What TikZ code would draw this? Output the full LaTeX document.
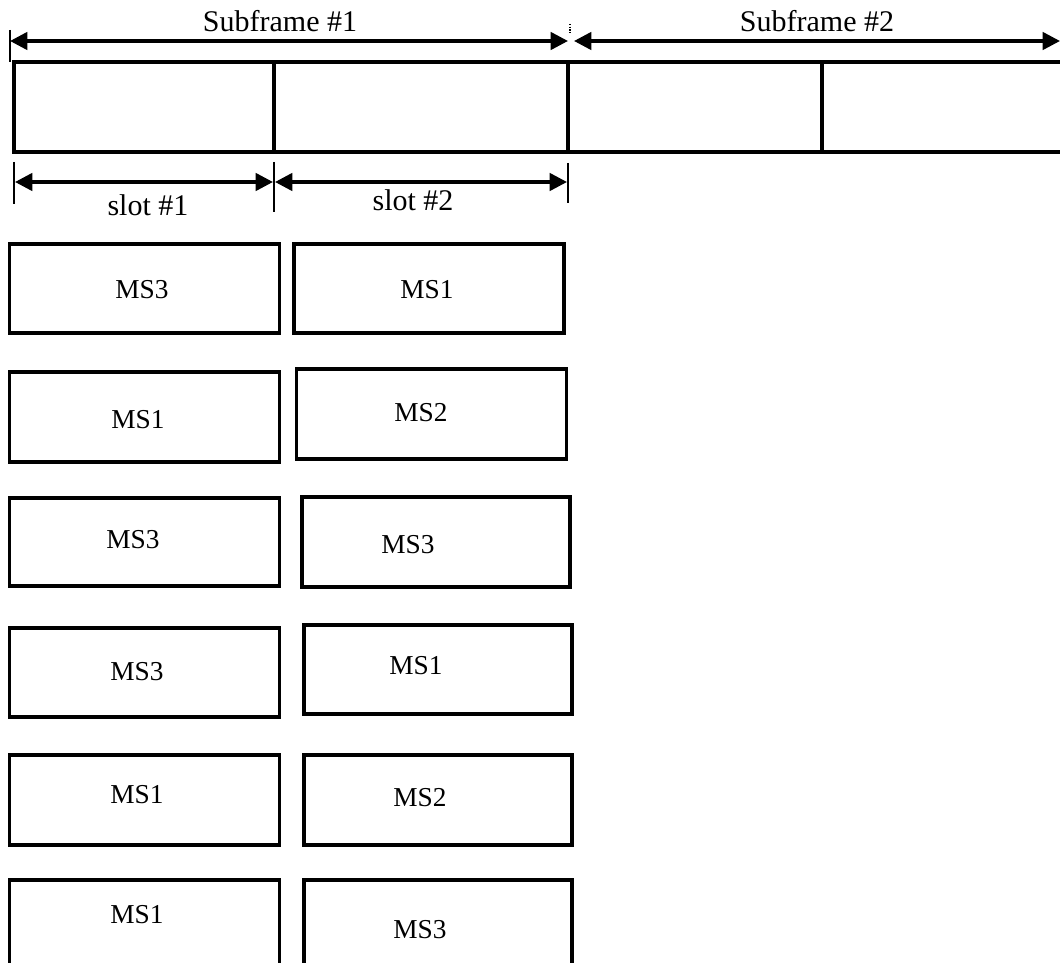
\documentclass[tikz,border=0pt]{standalone}
\usepackage{fontspec}
\setmainfont{Liberation Serif}
\usetikzlibrary{arrows.meta}
\begin{document}
\begin{tikzpicture}[x=0.75pt,y=-0.75pt,
  frameline/.style={line width=2.6pt},
  dim/.style={line width=2.6pt,{Triangle[length=13pt,width=13pt]}-{Triangle[length=13pt,width=13pt]}},
  tick/.style={line width=1.8pt},
  msbox/.style={draw,line width=2.6pt,rectangle,inner sep=0pt},
  lbl/.style={font=\fontsize{22.5}{26}\selectfont,inner sep=0pt},
  mslbl/.style={font=\fontsize{20.5}{24}\selectfont,inner sep=0pt}]
\useasboundingbox (0,0) rectangle (1060,963);
% frame
\coordinate (fTL) at (14,62);
\coordinate (fTR) at (1064,62);
\coordinate (fBL) at (14,152);
\coordinate (fBR) at (1064,152);
\draw[frameline] (fTR) -- (fTL) -- (fBL) -- (fBR);
\coordinate (d1t) at (274,62); \coordinate (d1b) at (274,152);
\coordinate (d2t) at (568,62); \coordinate (d2b) at (568,152);
\coordinate (d3t) at (822,62); \coordinate (d3b) at (822,152);
\draw[frameline] (d1t) -- (d1b) (d2t) -- (d2b) (d3t) -- (d3b);
% subframe arrows
\coordinate (s1l) at (10,41); \coordinate (s1r) at (568,41);
\coordinate (s2l) at (574,41); \coordinate (s2r) at (1060,41);
\coordinate (t0a) at (10,30); \coordinate (t0b) at (10,62);
\draw[tick] (t0a) -- (t0b);
\coordinate (tma) at (570,24); \coordinate (tmb) at (570,34);
\draw[line width=1pt,densely dotted] (tma) -- (tmb);
\draw[dim] (s1l) -- (s1r);
\draw[dim] (s2l) -- (s2r);
\node[lbl] (sf1) at (280,21) {Subframe \#1};
\node[lbl] (sf2) at (817,21) {Subframe \#2};
% slot arrows
\coordinate (k0a) at (14,162); \coordinate (k0b) at (14,204);
\coordinate (k1a) at (274,162); \coordinate (k1b) at (274,212);
\coordinate (k2a) at (568,163); \coordinate (k2b) at (568,203);
\draw[tick] (k0a) -- (k0b) (k1a) -- (k1b) (k2a) -- (k2b);
\coordinate (sl1l) at (15,182); \coordinate (sl1r) at (273,182);
\coordinate (sl2l) at (275,182); \coordinate (sl2r) at (567,182);
\draw[dim] (sl1l) -- (sl1r);
\draw[dim] (sl2l) -- (sl2r);
\node[lbl] (st1) at (148,205) {slot \#1};
\node[lbl] (st2) at (413,200) {slot \#2};
% boxes
\node[msbox,minimum width=202.5pt,minimum height=67pt] (b1l) at (144.5,288.5) {};
\node[msbox,minimum width=202.5pt,minimum height=67pt] (b1r) at (429,288.5) {};
\node[mslbl] (m1l) at (142,290) {MS3};
\node[mslbl] (m1r) at (427,290) {MS1};
\node[msbox,minimum width=202.5pt,minimum height=67.5pt] (b2l) at (144.5,417) {};
\node[msbox,minimum width=202.5pt,minimum height=67.5pt] (b2r) at (431.5,414) {};
\node[mslbl] (m2l) at (138,420) {MS1};
\node[mslbl] (m2r) at (421,413) {MS2};
\node[msbox,minimum width=202.5pt,minimum height=66pt] (b3l) at (144.5,542) {};
\node[msbox,minimum width=201pt,minimum height=67.5pt] (b3r) at (436,542) {};
\node[mslbl] (m3l) at (133,540) {MS3};
\node[mslbl] (m3r) at (408,545) {MS3};
\node[msbox,minimum width=202.5pt,minimum height=67pt] (b4l) at (144.5,672.5) {};
\node[msbox,minimum width=201pt,minimum height=67pt] (b4r) at (438,669.5) {};
\node[mslbl] (m4l) at (137,672) {MS3};
\node[mslbl] (m4r) at (416,666) {MS1};
\node[msbox,minimum width=202.5pt,minimum height=67.5pt] (b5l) at (144.5,800) {};
\node[msbox,minimum width=201pt,minimum height=67.5pt] (b5r) at (438,800) {};
\node[mslbl] (m5l) at (137,795) {MS1};
\node[mslbl] (m5r) at (420,798) {MS2};
\node[msbox,minimum width=202.5pt,minimum height=67.5pt] (b6l) at (144.5,925) {};
\node[msbox,minimum width=201pt,minimum height=67.5pt] (b6r) at (438,925) {};
\node[mslbl] (m6l) at (137,915) {MS1};
\node[mslbl] (m6r) at (420,930) {MS3};
\end{tikzpicture}
\end{document}
